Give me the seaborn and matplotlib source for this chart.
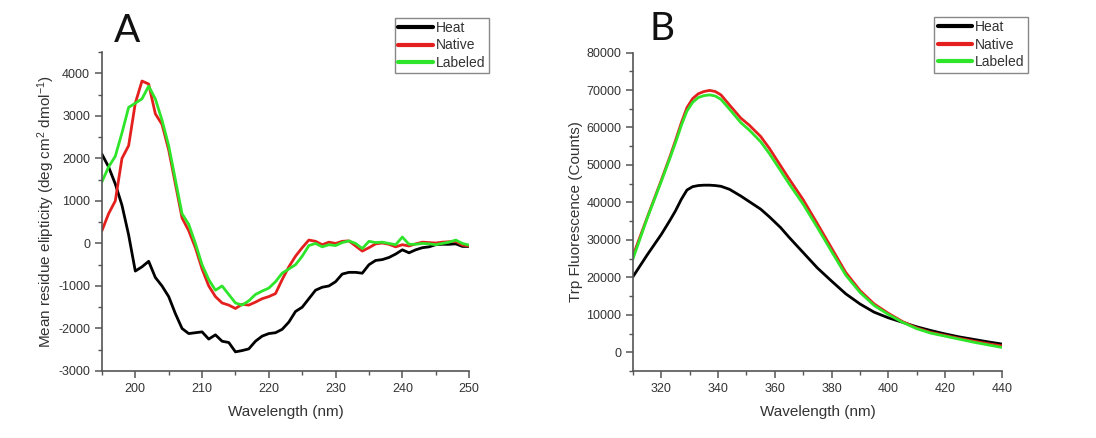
import numpy as np
import pandas as pd
import matplotlib
matplotlib.use("Agg")
import matplotlib.pyplot as plt
from matplotlib.ticker import MultipleLocator
from matplotlib.lines import Line2D
import seaborn as sns

# ---------------- data: panel A (CD spectra) ----------------
cd_wavelength = list(range(195, 251))
cd_heat = [2100, 1800, 1400, 900, 200, -650, -550, -420, -800, -1000,
           -1250, -1650, -2000, -2120, -2100, -2080, -2250, -2150, -2300, -2330,
           -2550, -2520, -2480, -2300, -2180, -2120, -2100, -2020, -1850, -1600,
           -1500, -1300, -1100, -1030, -1000, -900, -720, -680, -680, -700,
           -500, -400, -380, -330, -250, -150, -220, -150, -100, -80,
           -30, -20, -20, -10, -70, -70]
cd_native = [300, 700, 1000, 2000, 2300, 3300, 3820, 3750, 3050, 2800,
             2200, 1400, 600, 300, -100, -600, -1000, -1250, -1400, -1450,
             -1530, -1430, -1450, -1380, -1300, -1250, -1180, -850, -550, -300,
             -100, 80, 50, -30, 30, 0, 50, 60, -60, -180,
             -100, -10, 10, -20, -80, -30, -60, -10, 30, 20,
             10, 30, 40, 50, -40, -60]
cd_labeled = [1450, 1800, 2050, 2600, 3200, 3300, 3400, 3700, 3400, 2900,
              2300, 1500, 700, 450, 0, -500, -850, -1100, -1000, -1200,
              -1400, -1450, -1350, -1200, -1120, -1050, -900, -700, -600, -500,
              -300, -50, 0, -80, -30, -50, 20, 60, 0, -120,
              50, 20, 30, 0, -30, 150, -20, -20, 0, -10,
              -30, 0, 30, 80, 0, -40]

# ---------------- data: panel B (Trp fluorescence) ----------------
fl_wavelength = [310, 315, 320, 323, 325, 327, 329, 331, 333, 335, 337, 339, 341,
                 344, 348, 351, 355, 358, 362, 365, 370, 375, 380, 385, 390,
                 395, 400, 405, 410, 415, 420, 425, 430, 435, 440]
fl_heat = [20200, 26000, 31500, 35200, 37800, 40800, 43300, 44200, 44500, 44600,
           44600, 44500, 44300, 43500, 41700, 40200, 38200, 36200, 33300, 30700,
           26600, 22500, 19000, 15600, 12900, 10700, 9200, 8000, 6800, 5800,
           4900, 4100, 3450, 2800, 2200]
fl_native = [25800, 36000, 46000, 52200, 56600, 61200, 65300, 67700, 69000, 69600,
             69900, 69600, 68700, 66000, 62500, 60600, 57600, 54500, 49800, 46300,
             40700, 34300, 27800, 21300, 16500, 12900, 10400, 8200, 6500, 5300,
             4500, 3700, 3000, 2300, 1700]
fl_labeled = [25000, 35800, 45700, 51800, 56000, 60500, 64400, 66700, 68000, 68500,
              68700, 68400, 67500, 64900, 61300, 59300, 56200, 53100, 48500, 45000,
              39500, 33300, 26900, 20600, 16000, 12500, 10100, 8000, 6300, 5100,
              4300, 3500, 2700, 2000, 1300]

series_names = ["Heat", "Native", "Labeled"]
palette = {"Heat": "#000000", "Native": "#e3201e", "Labeled": "#2ee52a"}

cd_df = pd.concat([
    pd.DataFrame({"wl": cd_wavelength, "val": v, "sample": n})
    for n, v in zip(series_names, [cd_heat, cd_native, cd_labeled])
])
fl_df = pd.concat([
    pd.DataFrame({"wl": fl_wavelength, "val": v, "sample": n})
    for n, v in zip(series_names, [fl_heat, fl_native, fl_labeled])
])

sns.set_style("white")
plt.rcParams["font.family"] = ["Liberation Sans", "DejaVu Sans"]
plt.rcParams["mathtext.default"] = "regular"
plt.rcParams["axes.unicode_minus"] = False

text_c = "#333333"
spine_c = "#555555"

fig = plt.figure(figsize=(10.96, 4.38), dpi=100)
fig.patch.set_facecolor("white")
axA = fig.add_axes([0.093, 0.153, 0.335, 0.728])
axB = fig.add_axes([0.5776, 0.153, 0.3364, 0.727])

for ax, df in [(axA, cd_df), (axB, fl_df)]:
    sns.lineplot(data=df, x="wl", y="val", hue="sample", hue_order=series_names,
                 palette=palette, linewidth=2.0, ax=ax, legend=False,
                 estimator=None, sort=False)
    for side in ["top", "right"]:
        ax.spines[side].set_visible(False)
    for side in ["left", "bottom"]:
        ax.spines[side].set_color(spine_c)
        ax.spines[side].set_linewidth(1.2)
    ax.tick_params(which="major", direction="out", length=5, width=1.1,
                   color=spine_c, labelsize=9, labelcolor=text_c,
                   left=True, bottom=True)
    ax.tick_params(which="minor", direction="out", length=3, width=1.0,
                   color=spine_c, left=True, bottom=True)
    ax.set_xlabel("Wavelength (nm)", fontsize=11, color=text_c, labelpad=7)

# panel A axes
axA.set_xlim(195, 250)
axA.set_ylim(-3000, 4500)
axA.xaxis.set_major_locator(MultipleLocator(10))
axA.xaxis.set_minor_locator(MultipleLocator(5))
axA.set_yticks(list(range(-3000, 4001, 1000)))
axA.yaxis.set_minor_locator(MultipleLocator(500))
axA.set_ylabel("Mean residue elipticity (deg cm$^{2}$ dmol$^{-1}$)", fontsize=11,
               color=text_c, labelpad=1)

# panel B axes
axB.set_xlim(310, 440)
axB.set_ylim(-5000, 80000)
axB.set_xticks(list(range(320, 441, 20)))
axB.xaxis.set_minor_locator(MultipleLocator(10))
axB.set_yticks(list(range(0, 80001, 10000)))
axB.yaxis.set_minor_locator(MultipleLocator(5000))
axB.set_ylabel("Trp Fluorescence (Counts)", fontsize=11, color=text_c, labelpad=2)

# legends
handles = [Line2D([0], [0], color=palette[n], lw=3) for n in series_names]
for anchor in [(0.446, 0.960), (0.938, 0.962)]:
    leg = fig.legend(handles, series_names, loc="upper right", bbox_to_anchor=anchor,
                     fontsize=10, frameon=True, fancybox=False, framealpha=1,
                     edgecolor="#888888", handlelength=2.5, handletextpad=0.2,
                     labelspacing=0.25, borderpad=0.25, borderaxespad=0)
    leg.get_frame().set_linewidth(1.0)
    for t in leg.get_texts():
        t.set_color(text_c)

# panel letters
fig.text(0.104, 0.903, "A", fontsize=28, family=["Lato", "DejaVu Sans"], color="#111111")
fig.text(0.593, 0.908, "B", fontsize=28, family=["Lato", "DejaVu Sans"], color="#111111")

fig.savefig("out.png", dpi=100, facecolor="white")
